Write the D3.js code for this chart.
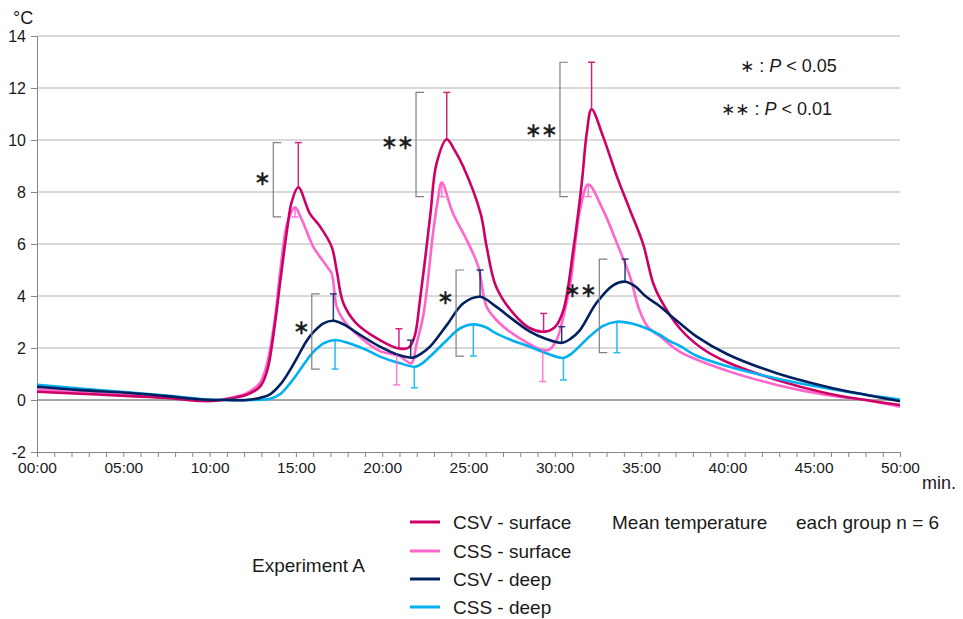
<!DOCTYPE html>
<html><head><meta charset="utf-8">
<script src="https://cdn.jsdelivr.net/npm/d3@7"></script>
<style>
body{margin:0;background:#fff;}
svg text{font-family:"Liberation Sans",Arial,sans-serif;}
</style></head>
<body><svg id="c" width="963" height="619"></svg>
<script>
// ---- data (minutes, °C) ----
const csvSurface = [[0,0.32],[2.5,0.24],[5.4,0.15],[7.5,0.08],[9.6,-0.04],[10.5,-0.02],[11.2,0.06],[12.15,0.2],[12.9,0.5],[13.1,0.7],[13.4,1.3],[13.8,3.0],[14.1,4.6],[14.5,6.6],[14.75,7.6],[15.14,8.18],[15.8,7.18],[16.4,6.67],[17.07,5.9],[17.36,5.0],[17.75,3.72],[18.5,2.95],[19.87,2.3],[20.84,2.0],[21.4,1.98],[21.6,2.05],[21.9,2.5],[22.19,3.85],[22.5,5.5],[22.8,7.2],[23.15,9.1],[23.74,10.03],[24.2,9.6],[24.7,8.97],[25.7,7.18],[26.05,5.9],[26.6,4.36],[27.6,3.33],[28.56,2.76],[29.4,2.63],[30.0,2.8],[30.5,3.46],[31.07,5.77],[31.56,8.33],[31.85,10.26],[32.13,11.18],[32.8,10.13],[33.6,8.59],[34.36,7.3],[35.1,6.03],[35.7,4.49],[36.1,3.9],[37.25,2.75],[38.5,2.0],[40.0,1.45],[42.86,0.77],[45.75,0.26],[48,0.0],[50,-0.19]];
const cssSurface = [[0,0.41],[2.5,0.3],[5.4,0.18],[7.5,0.1],[9.6,0.0],[10.5,0.0],[11.2,0.08],[12.15,0.26],[12.9,0.64],[13.1,0.9],[13.4,1.6],[13.8,3.2],[14.1,5.0],[14.5,6.8],[14.95,7.41],[15.3,7.0],[15.8,6.2],[16.0,5.9],[16.8,5.13],[17.07,4.87],[17.36,3.59],[17.75,3.08],[18.5,2.55],[19.87,1.88],[21.0,1.7],[21.4,1.5],[21.7,1.41],[22.0,2.18],[22.4,3.33],[22.96,6.5],[23.2,7.6],[23.45,8.36],[24.1,7.18],[24.9,6.15],[25.57,5.13],[26.05,3.59],[26.8,2.95],[27.98,2.37],[29.3,1.92],[29.7,1.95],[30.1,2.3],[30.5,3.2],[30.9,4.49],[31.46,7.3],[31.94,8.29],[32.8,7.3],[33.6,6.03],[34.36,4.74],[34.9,3.46],[35.4,2.8],[36.1,2.45],[37.25,1.85],[40.0,1.12],[42.86,0.58],[45.75,0.19],[48,0.0],[50,-0.26]];
const csvDeep = [[0,0.51],[2.5,0.38],[5.4,0.27],[7.5,0.15],[9.6,0.02],[11,0.0],[12.15,0.0],[12.9,0.08],[13.5,0.22],[14.1,0.6],[14.66,1.15],[15.05,1.6],[15.6,2.25],[16.0,2.6],[16.6,2.95],[17.17,3.05],[17.8,2.9],[18.5,2.6],[19.87,2.05],[21.0,1.72],[21.8,1.63],[22.3,1.8],[22.77,2.05],[23.74,2.88],[24.7,3.72],[25.67,3.97],[26.6,3.59],[27.6,3.08],[28.56,2.63],[29.5,2.35],[30.4,2.2],[30.9,2.35],[31.46,2.69],[32.4,3.72],[33.4,4.42],[34.07,4.55],[34.6,4.4],[35.3,3.97],[36.1,3.6],[36.7,3.25],[37.25,2.95],[38.2,2.45],[40.0,1.76],[42.86,1.03],[45.75,0.51],[48,0.2],[50,-0.05]];
const cssDeep = [[0,0.58],[2.5,0.44],[5.4,0.29],[7.5,0.17],[9.6,0.03],[11,0.0],[12.5,0.0],[13.5,0.05],[14.08,0.22],[14.66,0.64],[15.05,0.98],[15.6,1.5],[16.0,1.84],[16.6,2.18],[17.27,2.31],[18.0,2.2],[19.0,1.95],[19.87,1.67],[21.0,1.42],[21.9,1.28],[22.3,1.4],[22.77,1.67],[23.74,2.3],[24.5,2.75],[25.28,2.91],[26.0,2.8],[26.6,2.56],[27.5,2.3],[28.56,2.05],[29.5,1.8],[30.5,1.62],[31.0,1.8],[32.0,2.43],[32.8,2.85],[33.6,3.01],[34.4,2.95],[35.3,2.76],[36.1,2.5],[36.7,2.25],[37.25,2.08],[38.2,1.7],[40.0,1.3],[42.86,0.83],[45.75,0.45],[48,0.2],[50,0.02]];

// error bars: time, mean, sd
const errCsvSurfT = [15.14,20.97,23.74,29.35,32.13], errCsvSurfM = [8.18,2.0,10.03,2.63,11.18], errCsvSurfSD = [1.72,0.74,1.8,0.7,1.81];
const errCssSurfT = [14.95,20.84,23.45,29.3,31.94], errCssSurfM = [7.41,1.75,8.36,1.92,8.29], errCssSurfSD = [0.37,1.17,0.54,1.21,0.47];
const errCsvDeepT = [17.17,21.65,25.67,30.4,34.07], errCsvDeepM = [3.05,1.63,3.97,2.2,4.55], errCsvDeepSD = [1.03,0.67,1.03,0.62,0.87];
const errCssDeepT = [17.27,21.86,25.28,30.5,33.6], errCssDeepM = [2.31,1.28,2.91,1.62,3.01], errCssDeepSD = [1.12,0.81,1.22,0.85,1.19];

// significance brackets
const brT = [13.69,15.92,21.96,24.28,30.3,32.58];
const brTop = [9.9,4.08,11.83,5.0,12.99,5.42];
const brBottom = [7.04,1.19,7.82,1.69,7.82,1.82];
const brLabel = ["∗","∗","∗∗","∗","∗∗","∗∗"];
const brLabelV = [8.53,2.82,9.93,3.97,10.38,4.23];

const yTicks = [-2,0,2,4,6,8,10,12,14];
const xTicks = [0,5,10,15,20,25,30,35,40,45,50];
const xTickLabels = ["00:00","05:00","10:00","15:00","20:00","25:00","30:00","35:00","40:00","45:00","50:00"];
const seriesNames = ["CSV - surface","CSS - surface","CSV - deep","CSS - deep"];
const seriesColors = ["#cc0066","#ff66cc","#002060","#00b0f0"];

// ---- drawing ----
const svg = d3.select("#c");
const x = d3.scaleLinear().domain([0,50]).range([37,900]);
const y = d3.scaleLinear().domain([-2,14]).range([452,36]);
const font = '"Liberation Sans",Arial,sans-serif';
const ink = "#1a1a1a";

// grid
svg.append("g").selectAll("line").data(yTicks.filter(d=>d>-2)).join("line")
  .attr("x1",x(0)).attr("x2",x(50)).attr("y1",d=>y(d)).attr("y2",d=>y(d))
  .attr("stroke",d=>d===0?"#a6a6a6":"#d9d9d9").attr("stroke-width",1.2).attr("shape-rendering","crispEdges");

// y axis
const yAxis = d3.axisLeft(y).tickValues(yTicks).tickSize(6).tickPadding(4).tickFormat(d=>String(d));
const gy = svg.append("g").attr("transform",`translate(${x(0)},0)`).call(yAxis);
gy.select(".domain").attr("stroke","#868686");
gy.selectAll(".tick line").attr("stroke","#868686");
gy.selectAll(".tick text").attr("font-size",16).attr("font-family",font).attr("fill",ink).attr("dx",-1);

// x axis at -2
const xAxis = d3.axisBottom(x).tickValues(d3.range(0,51,1)).tickSize(5)
  .tickFormat(d=>{const i=xTicks.indexOf(d);return i>=0?xTickLabels[i]:"";}).tickPadding(5);
const gx = svg.append("g").attr("transform",`translate(0,${y(-2)})`).call(xAxis);
gx.select(".domain").attr("stroke","#868686");
gx.selectAll(".tick line").attr("stroke","#868686");
gx.selectAll(".tick text").attr("font-size",15.5).attr("font-family",font).attr("fill",ink);

svg.append("text").attr("x",13).attr("y",24).attr("font-size",18).attr("fill",ink).text("°C");
svg.append("text").attr("x",922).attr("y",489).attr("font-size",18).attr("fill",ink).text("min.");

// lines
const line = d3.line().x(d=>x(d[0])).y(d=>y(d[1])).curve(d3.curveCatmullRom.alpha(0.5));
const series = [csvSurface,cssSurface,csvDeep,cssDeep];
const drawOrder = [1,0,3,2];
drawOrder.forEach(i=>{
  svg.append("path").datum(series[i]).attr("d",line).attr("fill","none")
    .attr("stroke",seriesColors[i]).attr("stroke-width",2.6).attr("stroke-linejoin","round");
});

// error bars
const errs = [
  [errCsvSurfT,errCsvSurfM,errCsvSurfSD,1,0],
  [errCssSurfT,errCssSurfM,errCssSurfSD,-1,1],
  [errCsvDeepT,errCsvDeepM,errCsvDeepSD,1,2],
  [errCssDeepT,errCssDeepM,errCssDeepSD,-1,3]
];
errs.forEach(([T,M,S,dir,ci])=>{
  const g = svg.append("g").attr("stroke",seriesColors[ci]).attr("stroke-width",1.5).attr("opacity",0.85);
  T.forEach((t,k)=>{
    const end = M[k]+dir*S[k];
    g.append("line").attr("x1",x(t)).attr("x2",x(t)).attr("y1",y(M[k])).attr("y2",y(end));
    g.append("line").attr("x1",x(t)-3.5).attr("x2",x(t)+3.5).attr("y1",y(end)).attr("y2",y(end));
  });
});

// brackets
const bg = svg.append("g").attr("stroke","#808080").attr("stroke-width",1.2).attr("fill","none");
brT.forEach((t,k)=>{
  const bx = x(t), bx2 = bx+8;
  bg.append("path").attr("d",`M${bx2},${y(brTop[k])}H${bx}V${y(brBottom[k])}H${bx2}`);
  svg.append("text").attr("x",bx-3).attr("y",y(brLabelV[k])).attr("dy","0.35em")
    .attr("text-anchor","end").attr("font-family","DejaVu Sans").attr("font-size",20)
    .attr("fill",ink).attr("stroke",ink).attr("stroke-width",0.4).attr("letter-spacing",-1).text(brLabel[k]);
});

// p-value legend
const pv = [["∗","0.05",740,66],["∗∗","0.01",721,109]];
pv.forEach(([s,v,px,py])=>{
  const t = svg.append("text").attr("x",px).attr("y",py).attr("dy","0.35em").attr("font-size",18).attr("fill",ink);
  t.append("tspan").attr("font-family","DejaVu Sans").attr("font-size",17).text(s);
  t.append("tspan").text(" : ");
  t.append("tspan").attr("font-style","italic").text("P");
  t.append("tspan").text(" < "+v);
});

// legend
const legY = [522,551,579,607];
const fs = 19;
seriesNames.forEach((n,i)=>{
  svg.append("line").attr("x1",410).attr("x2",440).attr("y1",legY[i]).attr("y2",legY[i])
    .attr("stroke",seriesColors[i]).attr("stroke-width",3);
  svg.append("text").attr("x",453).attr("y",legY[i]).attr("dy","0.35em").attr("font-size",fs).attr("fill",ink).text(n);
});
svg.append("text").attr("x",612).attr("y",522).attr("dy","0.35em").attr("font-size",fs).attr("fill",ink).text("Mean temperature");
svg.append("text").attr("x",796).attr("y",522).attr("dy","0.35em").attr("font-size",fs).attr("fill",ink).text("each group n = 6");
svg.append("text").attr("x",252).attr("y",565).attr("dy","0.35em").attr("font-size",fs).attr("fill",ink).text("Experiment A");
</script></body></html>
